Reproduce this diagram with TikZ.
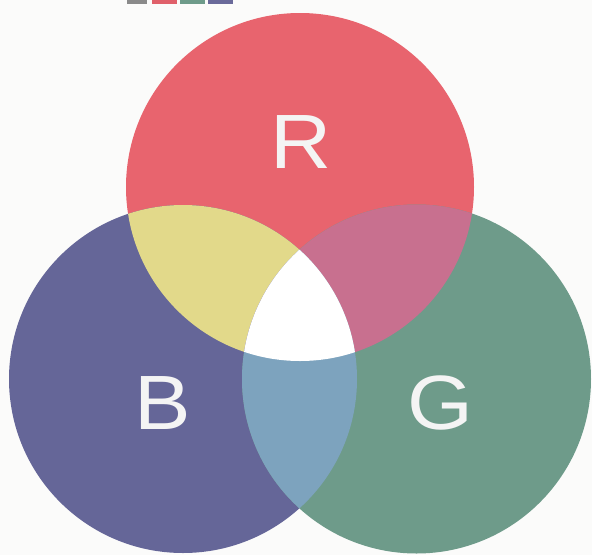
\documentclass[tikz,border=0pt]{standalone}
\usepackage{fontspec}
\setmainfont{Liberation Sans}
\definecolor{bgc}{HTML}{FBFBFA}
\definecolor{redc}{HTML}{E8646E}
\definecolor{bluec}{HTML}{656698}
\definecolor{greenc}{HTML}{6E9B8A}
\definecolor{yellowc}{HTML}{E2D98A}
\definecolor{magc}{HTML}{C8708F}
\definecolor{tealc}{HTML}{7DA3BE}
\definecolor{whitec}{HTML}{FFFFFF}
\definecolor{letterc}{HTML}{F4F4F4}
\definecolor{swgray}{HTML}{8A8A8A}
\definecolor{swred}{HTML}{E0606A}
\definecolor{swgreen}{HTML}{6E9B8A}
\definecolor{swpurple}{HTML}{6A6A9A}
\begin{document}
\begin{tikzpicture}[x=1pt,y=-1pt,
  letter/.style={text=letterc,font=\fontsize{77}{77}\selectfont,anchor=base,inner sep=0pt,xscale=1.1},
  swatch/.style={draw=none}]
\useasboundingbox (0,0) rectangle (592,555);
\fill[bgc] (0,0) rectangle (592,555);
\def\Rc{(300,187) circle[radius=174]}
\def\Bc{(183,379) circle[radius=174]}
\def\Gc{(416.5,379) circle[radius=174.5]}
\fill[redc] \Rc;
\fill[bluec] \Bc;
\fill[greenc] \Gc;
\begin{scope}\clip \Rc; \fill[yellowc] \Bc; \end{scope}
\begin{scope}\clip \Rc; \fill[magc] \Gc; \end{scope}
\begin{scope}\clip \Bc; \fill[tealc] \Gc; \end{scope}
\begin{scope}\clip \Rc; \clip \Bc; \fill[whitec] \Gc; \end{scope}
\node[letter] (lr) at (301,168) {R};
\node[letter] (lb) at (163,429) {B};
\node[letter] (lg) at (440,429) {G};
\fill[swgray]   (127,0) rectangle (147,3.5);
\fill[swred]    (152,0) rectangle (177,3.5);
\fill[swgreen]  (180,0) rectangle (205,3.5);
\fill[swpurple] (208,0) rectangle (233,3.5);
\end{tikzpicture}
\end{document}
